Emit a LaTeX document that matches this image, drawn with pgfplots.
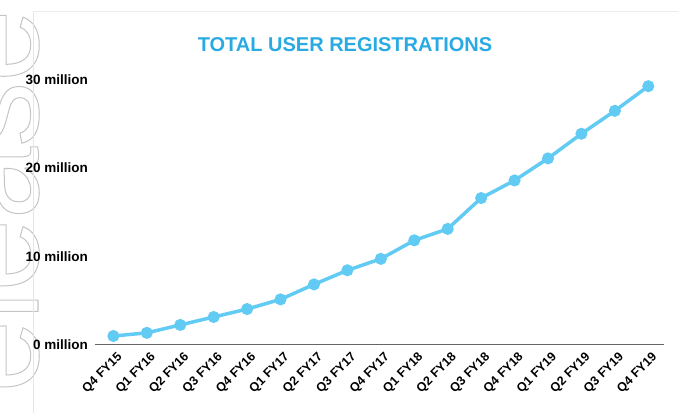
\documentclass[border=0pt]{standalone}
\usepackage{pgfplots}
\pgfplotsset{compat=1.18}
\usepackage{fontspec}
\setmainfont{Liberation Sans}
\definecolor{lineblue}{HTML}{62CBF3}
\definecolor{titleblue}{HTML}{2AAAE2}
\definecolor{gridmajor}{HTML}{DADADA}
\definecolor{gridminor}{HTML}{EBEBEB}
\definecolor{wmgray}{HTML}{C4C4C4}
\begin{document}
\begin{tikzpicture}[x=1pt,y=1pt]
\useasboundingbox (0,0) rectangle (678,413);
% watermark (outlined, mostly outside the picture)
\node[rotate=90, anchor=base west, inner sep=0pt, text=wmgray, font=\fontsize{130}{130}\selectfont] at (38,-23)
  {\special{pdf:literal direct 1 Tr 1 w}release\special{pdf:literal direct 0 Tr}};
\draw[gray!20, line width=0.8pt] (33,402) -- (33,0);
\draw[gray!15, line width=0.8pt] (33,402) -- (678,402);
\node[font=\fontsize{20}{24}\selectfont\bfseries, text=titleblue] at (345,368) {TOTAL USER REGISTRATIONS};
\begin{axis}[
  at={(95pt,68.7pt)}, anchor=south west,
  scale only axis, width=569pt, height=264.3pt,
  xmin=-0.55, xmax=16.47, ymin=0, ymax=30,
  axis x line=bottom, axis y line=none,
  axis line style={draw=black!60, line width=0.9pt, -},
  ytick={0,10,20,30},
  minor ytick={5,15,25},
  ymajorgrids, yminorgrids,
  major grid style={gridmajor, line width=0.9pt},
  minor grid style={gridminor, line width=0.9pt},
  xtick=data,
  xticklabels={Q4 FY15,Q1 FY16,Q2 FY16,Q3 FY16,Q4 FY16,Q1 FY17,Q2 FY17,Q3 FY17,Q4 FY17,Q1 FY18,Q2 FY18,Q3 FY18,Q4 FY18,Q1 FY19,Q2 FY19,Q3 FY19,Q4 FY19},
  xticklabel style={xshift=7pt, yshift=-11pt, rotate=45, anchor=east, font=\fontsize{12.5}{14}\selectfont\bfseries, inner sep=0pt},
  major tick length=0pt,
  clip=false,
]
\addplot[lineblue, line width=3.5pt, mark=*, mark size=4.2pt, mark options={solid, fill=lineblue, draw=none}]
 coordinates {(0,0.94) (1,1.3) (2,2.2) (3,3.1) (4,4.0) (5,5.1) (6,6.8) (7,8.4) (8,9.7) (9,11.8) (10,13.1) (11,16.6) (12,18.6) (13,21.1) (14,23.9) (15,26.5) (16,29.3)};
\end{axis}
\foreach \v/\yy in {0/68.7, 10/156.8, 20/244.9, 30/333} {
  \node[anchor=east, font=\fontsize{13.5}{15}\selectfont\bfseries, inner sep=0pt] at (88,\yy) {\v\ million};
}
\end{tikzpicture}
\end{document}
